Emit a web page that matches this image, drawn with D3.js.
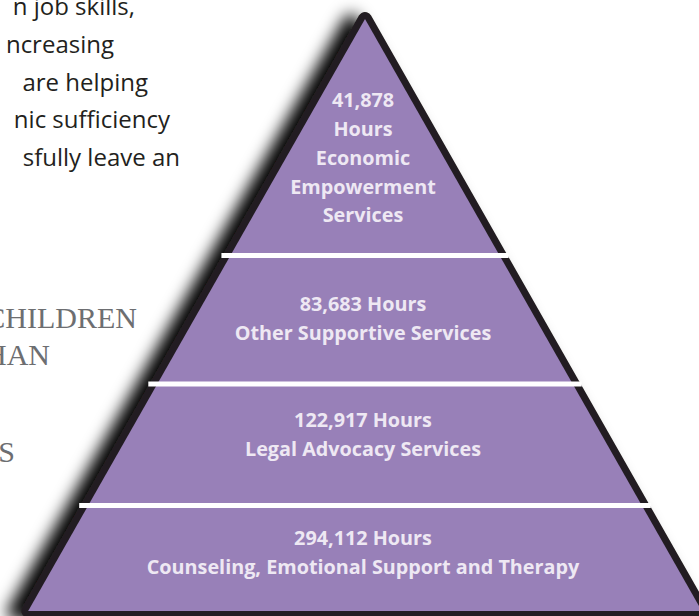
<!DOCTYPE html>
<html>
<head>
<meta charset="utf-8">
<script src="https://d3js.org/d3.v7.min.js"></script>
<style>
  body { margin: 0; background: #fff; }
  svg { display: block; }
</style>
</head>
<body>
<svg id="pyramid-svg"></svg>
<script>
// services, from the top of the pyramid down
const services = ['Economic Empowerment Services', 'Other Supportive Services',
                  'Legal Advocacy Services', 'Counseling, Emotional Support and Therapy'];
const hours = [41878, 83683, 122917, 294112];

// page copy that the pyramid sits beside (cropped at the left edge)
const bodyLines = ['n job skills,', 'ncreasing', 'are helping', 'nic sufficiency', 'sfully leave an'];
const capsLines = ['CHILDREN', 'HAN', 'S'];

const svgWidth = 699, svgHeight = 616;
const fmt = d3.format(',');

const svg = d3.select('#pyramid-svg')
    .attr('width', svgWidth)
    .attr('height', svgHeight);

/*********** Side text *******************/
const bodyBase = [15, 53, 90.5, 128, 166];
const bodyEnd = [135, 114, 148, 170, 180];
svg.append('g').selectAll('text')
    .data(bodyLines)
    .join('text')
    .attr('x', (d, i) => bodyEnd[i])
    .attr('y', (d, i) => bodyBase[i])
    .attr('text-anchor', 'end')
    .style('font-family', '"Open Sans", sans-serif')
    .style('font-size', '24px')
    .style('fill', '#231f20')
    .text(d => d);

const capsBase = [327.5, 365, 462];
const capsEnd = [137, 50, 15];
svg.append('g').selectAll('text')
    .data(capsLines)
    .join('text')
    .attr('x', (d, i) => capsEnd[i])
    .attr('y', (d, i) => capsBase[i])
    .attr('text-anchor', 'end')
    .style('font-family', '"Liberation Serif", serif')
    .style('font-size', '30px')
    .style('fill', '#6d6e71')
    .text(d => d);
/****************************************/

/*********** Pyramid geometry *************/
const apexY = 19, baseY = 611, cx = 365, slope = 0.569;
const breaks = [0, 0.3995, 0.6166, 0.8218, 1];
const yScale = d3.scaleLinear().domain([0, 1]).range([apexY, baseY]);
const halfW = yy => (yy - apexY) * slope;

const tri = d3.line()([
  [cx, apexY],
  [cx - halfW(baseY), baseY],
  [cx + halfW(baseY), baseY]
]) + 'Z';

const defs = svg.append('defs');
defs.append('filter')
    .attr('id', 'shadow')
    .attr('x', '-20%').attr('y', '-10%')
    .attr('width', '140%').attr('height', '120%')
  .append('feDropShadow')
    .attr('dx', -14)
    .attr('dy', 2)
    .attr('stdDeviation', 8)
    .attr('flood-color', '#000')
    .attr('flood-opacity', 1);
/****************************************/

/*********** Outline + fill ***************/
svg.append('path')
    .attr('d', tri)
    .attr('fill', '#231f20')
    .attr('stroke', '#231f20')
    .attr('stroke-width', 14)
    .attr('stroke-linejoin', 'round')
    .attr('filter', 'url(#shadow)');

svg.append('path')
    .attr('d', tri)
    .attr('fill', '#9880b8');
/****************************************/

/*********** Tier dividers ***************/
svg.append('g').selectAll('line')
    .data(breaks.slice(1, -1))
    .join('line')
    .attr('x1', d => cx - halfW(yScale(d)) - 9)
    .attr('x2', d => cx + halfW(yScale(d)) + 9)
    .attr('y1', d => yScale(d))
    .attr('y2', d => yScale(d))
    .attr('stroke', '#fff')
    .attr('stroke-width', 5);
/****************************************/

/*********** Tier labels *****************/
const lineH = 28.8;
const shift = [20.5, -1, -10.5, -6];   // nudge of each label block from the tier middle
const tiers = services.map((s, i) => {
  const lines = i === 0
    ? [fmt(hours[i]), 'Hours'].concat(s.split(' '))
    : [fmt(hours[i]) + ' Hours', s];
  const mid = (yScale(breaks[i]) + yScale(breaks[i + 1])) / 2 + shift[i];
  return { lines, first: mid - (lines.length - 1) * lineH / 2 + 7 };
});

const labels = svg.append('g').selectAll('text')
    .data(tiers)
    .join('text')
    .attr('text-anchor', 'middle')
    .style('font-family', '"Open Sans", sans-serif')
    .style('font-weight', 'bold')
    .style('font-size', '19.8px')
    .style('fill', '#eee8f3');

labels.selectAll('tspan')
    .data(d => d.lines.map((t, j) => ({ t, y: d.first + j * lineH })))
    .join('tspan')
    .attr('x', cx - 2)
    .attr('y', d => d.y)
    .text(d => d.t);
/****************************************/
</script>
</body>
</html>
